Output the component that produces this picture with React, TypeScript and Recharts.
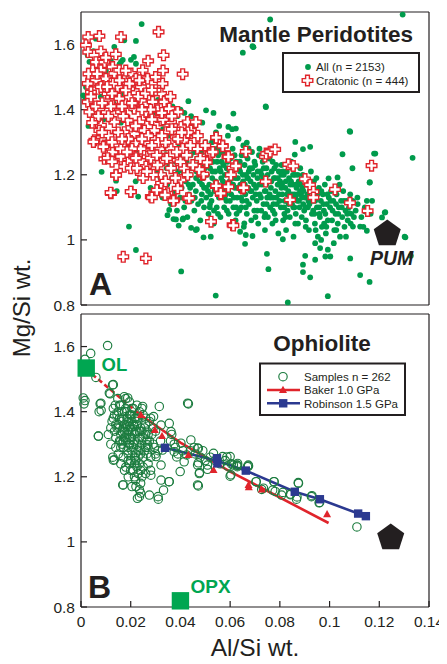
import React from 'react';
import { ScatterChart, Scatter, XAxis, YAxis } from 'recharts';

type P = [number, number];

const FONT = '"Liberation Sans", Arial, Helvetica, sans-serif';
const INK = '#231f20';
const GREEN = '#009b4c';
const RED = '#e0242b';
const RING = '#1c7c3f';
const OLGREEN = '#00a651';
const BLUE = '#2b3990';

const xTicks = [0, 0.02, 0.04, 0.06, 0.08, 0.1, 0.12, 0.14];
const yTicks = [0.8, 1, 1.2, 1.4, 1.6];
const xDomain = [0, 0.14];
const yDomain = [0.8, 1.7];

// Panel A: Mantle peridotites, all samples (Al/Si, Mg/Si)
const allPeridotites: P[] = [
  [0.0244,1.663],[0.0761,1.677],[0.1294,1.692],[0.0651,1.575],[0.0694,1.592],[0.0744,1.408],[0.1083,1.332],[0.1334,1.252],[0.1184,1.265],[0.1052,1.263],
  [0.1161,1.176],[0.1092,1.22],[0.1224,1.085],[0.1305,1.008],[0.1327,0.951],[0.1123,0.892],[0.1161,0.871],[0.1083,0.943],[0.0993,0.827],[0.0832,0.808],
  [0.0542,0.829],[0.0403,0.903],[0.0221,0.969],[0.0193,1.041],[0.0748,0.957],[0.0754,0.91],[0.0902,0.951],[0.0893,0.924],[0.0893,0.901],[0.0922,0.885],
  [0.0942,0.939],[0.0962,0.975],[0.0993,0.97],[0.0983,0.949],[0.1003,0.949],[0.0942,0.99],[0.066,0.988],[0.0812,1.002],[0.0493,1.008],[0.0522,1.01],
  [0.0443,1.037],[0.0466,1.033],[0.0372,1.064],[0.0409,1.063],[0.0083,1.209],[0.0141,1.182],[0.0144,1.15],[0.115,1.12],[0.1113,1.11],[0.1144,1.087],
  [0.1079,1.082],[0.1094,1.041],[0.1123,1.041],[0.115,1.028],[0.0862,1.301],[0.0893,1.279],[0.0922,1.286],[0.0996,1.189],[0.1032,1.192],[0.0503,1.398],
  [0.0533,1.39],[0.0613,1.388],[0.0623,1.342],[0.0593,1.347],[0.0432,1.426],[0.0667,1.299],[0.0674,1.281],[0.0221,1.611],[0.0174,1.613],[0.0134,1.593],
  [0.006,1.618],[0.0027,1.567],[0.0034,1.547],[0.0161,1.547],[0.0155,1.54],[0.0168,1.553],[0.0201,1.553],[0.0213,1.562],[0.0221,1.541],[0.069,1.595],
  [0.023,1.133],[0.0382,1.063],[0.0411,1.066],[0.0393,1.044],[0.0462,1.03],[0.064,1.025],[0.0663,1.015],[0.069,1.012],[0.0657,1.051],[0.0348,1.076],
  [0.0355,1.092],[0.1162,1.177],[0.1222,1.084],[0.1211,1.069],[0.1302,1.01],[0.086,1.262],[0.0743,1.41],[0.1081,1.334],[0.1179,1.265],
  [0.0009,1.444],[0.0016,1.429],[0.002,1.47],[0.004,1.39],[0.003,1.35],[0.007,1.52],[0.008,1.44],[0.009,1.37],[0.011,1.31],[0.012,1.49],
  [0.013,1.42],[0.014,1.26],[0.016,1.36],[0.017,1.45],[0.018,1.22],[0.019,1.3],[0.021,1.4],[0.022,1.18],[0.023,1.27],[0.024,1.35],
  [0.025,1.46],[0.026,1.22],[0.027,1.31],[0.028,1.16],[0.029,1.39],[0.03,1.25],[0.031,1.43],[0.032,1.19],[0.033,1.34],[0.034,1.28],
  [0.035,1.14],[0.036,1.37],[0.037,1.22],[0.038,1.31],[0.039,1.17],[0.04,1.4],[0.041,1.26],[0.042,1.12],[0.043,1.34],[0.044,1.2],
  [0.012,1.55],[0.015,1.57],[0.01,1.52],[0.006,1.49],[0.0185,1.51],[0.02,1.47],[0.005,1.58],[0.003,1.6],
  [0.0305,1.21],[0.0312,1.15],[0.0318,1.3],[0.0322,1.24],[0.0328,1.13],[0.0335,1.2],[0.0341,1.26],[0.0347,1.17],[0.0352,1.32],[0.0356,1.23],
  [0.0362,1.11],[0.0366,1.19],[0.0371,1.27],[0.0376,1.15],[0.0381,1.24],[0.0386,1.09],[0.0391,1.21],[0.0396,1.29],[0.0399,1.13],[0.0358,1.28],
  [0.0333,1.36],[0.0378,1.34],[0.0388,1.38],[0.0368,1.41],[0.0395,1.18],[0.0345,1.22],[0.0315,1.27],
  [0.0402,1.25],[0.0405,1.16],[0.0408,1.33],[0.0412,1.21],[0.0415,1.1],[0.0418,1.28],[0.0421,1.18],[0.0425,1.24],[0.0428,1.07],[0.0431,1.31],
  [0.0434,1.14],[0.0437,1.2],[0.0441,1.26],[0.0444,1.12],[0.0447,1.35],[0.045,1.17],[0.0453,1.23],[0.0456,1.09],[0.0459,1.29],[0.0462,1.15],
  [0.0465,1.21],[0.0468,1.25],[0.0471,1.11],[0.0474,1.32],[0.0477,1.18],[0.048,1.06],[0.0483,1.23],[0.0486,1.14],[0.0489,1.27],[0.0492,1.19],
  [0.0495,1.1],[0.0498,1.22],[0.0443,1.38],[0.0461,1.33],[0.0488,1.36],[0.0416,1.39],[0.0433,1.17],[0.0476,1.2],[0.0455,1.27],[0.0495,1.16],
  [0.0501,1.3],[0.0504,1.13],[0.0507,1.2],[0.051,1.25],[0.0513,1.08],[0.0516,1.17],[0.0519,1.22],[0.0522,1.28],[0.0525,1.12],[0.0528,1.19],
  [0.0531,1.24],[0.0534,1.05],[0.0537,1.15],[0.054,1.21],[0.0543,1.33],[0.0546,1.1],[0.0549,1.17],[0.0552,1.26],[0.0555,1.13],[0.0558,1.22],
  [0.0561,1.07],[0.0564,1.19],[0.0567,1.29],[0.057,1.15],[0.0573,1.23],[0.0576,1.1],[0.0579,1.2],[0.0582,1.26],[0.0585,1.12],[0.0588,1.17],
  [0.0591,1.32],[0.0594,1.08],[0.0597,1.21],[0.0511,1.15],[0.0527,1.3],[0.0548,1.28],[0.0565,1.24],[0.0583,1.14],[0.0598,1.18],[0.0535,1.09],
  [0.0556,1.35],[0.0519,1.11],[0.0572,1.27],
  [0.0601,1.25],[0.0604,1.14],[0.0607,1.19],[0.061,1.28],[0.0613,1.1],[0.0616,1.22],[0.0619,1.16],[0.0622,1.06],[0.0625,1.24],[0.0628,1.13],
  [0.0631,1.19],[0.0634,1.31],[0.0637,1.09],[0.064,1.21],[0.0643,1.15],[0.0646,1.26],[0.0649,1.12],[0.0652,1.18],[0.0655,1.04],[0.0658,1.23],
  [0.0661,1.14],[0.0664,1.2],[0.0667,1.08],[0.067,1.25],[0.0673,1.16],[0.0676,1.11],[0.0679,1.22],[0.0682,1.18],[0.0685,1.06],[0.0688,1.27],
  [0.0691,1.13],[0.0694,1.2],[0.0697,1.09],[0.0612,1.17],[0.0632,1.23],[0.0653,1.29],[0.0669,1.19],[0.0686,1.15],[0.0608,1.34],[0.0626,1.08],
  [0.0645,1.1],[0.0675,1.21],[0.0641,1.17],
  [0.0701,1.23],[0.0704,1.16],[0.0707,1.12],[0.071,1.19],[0.0713,1.05],[0.0716,1.26],[0.0719,1.14],[0.0722,1.21],[0.0725,1.09],[0.0728,1.17],
  [0.0731,1.24],[0.0734,1.11],[0.0737,1.19],[0.074,1.03],[0.0743,1.15],[0.0746,1.22],[0.0749,1.13],[0.0752,1.07],[0.0755,1.18],[0.0758,1.25],
  [0.0761,1.1],[0.0764,1.16],[0.0767,1.21],[0.077,1.05],[0.0773,1.13],[0.0776,1.19],[0.0779,1.08],[0.0782,1.15],[0.0785,1.23],[0.0788,1.11],
  [0.0791,1.17],[0.0794,1.02],[0.0797,1.14],[0.0709,1.09],[0.0727,1.2],[0.0745,1.17],[0.0762,1.13],[0.0781,1.19],[0.0796,1.21],[0.0718,1.28],
  [0.0738,1.07],[0.0772,1.09],[0.0754,1.27],
  [0.0801,1.18],[0.0804,1.1],[0.0807,1.23],[0.081,1.14],[0.0813,1.06],[0.0816,1.2],[0.0819,1.12],[0.0822,1.16],[0.0825,1.03],[0.0828,1.21],
  [0.0831,1.09],[0.0834,1.15],[0.0837,1.19],[0.084,1.07],[0.0843,1.13],[0.0846,1.24],[0.0849,1.11],[0.0852,1.17],[0.0855,1.01],[0.0858,1.14],
  [0.0861,1.2],[0.0864,1.08],[0.0867,1.16],[0.087,1.12],[0.0873,1.05],[0.0876,1.18],[0.0879,1.1],[0.0882,1.22],[0.0885,1.14],[0.0888,1.07],
  [0.0891,1.16],[0.0894,1.11],[0.0897,1.19],[0.0809,1.17],[0.0826,1.12],[0.0845,1.18],[0.0863,1.13],[0.0881,1.15],[0.0898,1.09],[0.0818,1.08],
  [0.0836,1.24],[0.0854,1.1],[0.0872,1.2],
  [0.0901,1.13],[0.0905,1.06],[0.0909,1.17],[0.0913,1.1],[0.0917,1.03],[0.0921,1.15],[0.0925,1.21],[0.0929,1.08],[0.0933,1.12],[0.0937,1.18],
  [0.0941,1.05],[0.0945,1.14],[0.0949,1.1],[0.0953,1.01],[0.0957,1.16],[0.0961,1.07],[0.0965,1.12],[0.0969,1.04],[0.0973,1.14],[0.0977,1.09],
  [0.0981,1.17],[0.0985,1.02],[0.0989,1.11],[0.0993,1.06],[0.0997,1.13],[0.0915,1.12],[0.0939,1.08],[0.0958,1.1],[0.0978,1.05],[0.0947,1.19],
  [0.0927,1.16],[0.0966,1.0],
  [0.1002,1.1],[0.1006,1.15],[0.101,1.06],[0.1015,1.12],[0.1019,1.03],[0.1024,1.08],[0.1028,1.14],[0.1033,1.05],[0.1037,1.1],[0.1042,1.01],
  [0.1046,1.12],[0.1051,1.07],[0.1055,1.15],[0.106,1.04],[0.1064,1.09],[0.1069,1.12],[0.1073,1.06],[0.1078,1.1],[0.1083,1.14],[0.1088,1.08],
  [0.1093,1.12],[0.1098,1.07],[0.1017,0.99],[0.104,1.17],[0.1066,1.01],[0.1085,1.05],
  [0.1105,1.09],[0.1112,1.13],[0.1128,1.07],[0.1136,1.04],[0.1142,1.1],[0.1165,1.08],[0.1171,1.12],
  [0.0463,1.19],[0.0472,1.23],[0.0487,1.17],[0.0503,1.16],[0.0508,1.23],[0.0521,1.14],[0.0529,1.21],[0.0541,1.18],[0.0553,1.15],[0.0562,1.21],
  [0.0571,1.18],[0.0578,1.13],[0.0586,1.22],[0.0593,1.16],[0.0599,1.12],[0.0605,1.21],[0.0615,1.13],[0.0621,1.19],[0.0629,1.16],[0.0636,1.22],
  [0.0644,1.13],[0.0651,1.2],[0.0659,1.17],[0.0666,1.12],[0.0672,1.19],[0.0681,1.15],[0.0689,1.22],[0.0696,1.17],[0.0703,1.14],[0.0711,1.21],
  [0.0717,1.17],[0.0724,1.13],[0.0732,1.19],[0.0739,1.15],[0.0747,1.11],[0.0751,1.2],[0.0759,1.14],[0.0766,1.18],[0.0774,1.11],[0.0778,1.22],
  [0.0786,1.13],[0.0792,1.19],[0.0799,1.12],[0.0806,1.16],[0.0812,1.21],[0.0817,1.1],[0.0824,1.18],[0.0829,1.14],[0.0835,1.11],[0.0842,1.17],
  [0.0848,1.14],[0.0853,1.2],[0.0859,1.1],[0.0865,1.17],[0.0869,1.14],[0.0877,1.12],[0.0883,1.17],[0.0889,1.13],[0.0895,1.15],[0.0903,1.1],
  [0.0911,1.14],[0.0919,1.11],[0.0926,1.13],[0.0934,1.09],[0.0942,1.12],[0.0951,1.14],[0.0959,1.08],[0.0967,1.15],[0.0975,1.11],[0.0983,1.08],
  [0.0991,1.14],[0.1004,1.12],[0.1012,1.09],[0.1026,1.11],[0.1035,1.08],[0.1049,1.1],[0.1058,1.12],[0.1071,1.08],[0.1081,1.11],[0.0528,1.26],
  [0.0547,1.24],[0.0566,1.27],[0.0589,1.24],[0.0618,1.26],[0.0639,1.24],[0.0662,1.26],[0.0698,1.24],[0.0735,1.22],[0.0771,1.24],[0.0806,1.2],
  [0.0851,1.22],[0.0892,1.2],[0.0417,1.23],[0.0426,1.19],[0.0446,1.22],[0.0439,1.16],[0.0458,1.13],[0.0484,1.12],[0.0518,1.1],[0.0551,1.08],
  [0.0587,1.09],[0.0624,1.1],[0.0663,1.1],[0.0702,1.07],[0.0741,1.08],[0.0783,1.06],[0.0823,1.07],[0.0862,1.05],[0.0904,1.04],[0.0944,1.03],
  [0.0987,1.04],[0.1027,1.03],
];

// Panel A: cratonic peridotites
const cratonicPeridotites: P[] = [
  [0.0029,1.623],[0.0074,1.626],[0.0161,1.623],[0.0312,1.639],[0.0332,1.567],[0.0409,1.509],[0.002,1.598],[0.0029,1.577],[0.0054,1.567],[0.008,1.579],
  [0.006,1.546],[0.0094,1.546],[0.0047,1.521],[0.008,1.521],[0.0127,1.531],[0.0134,1.511],[0.0154,1.521],[0.0201,1.511],[0.0248,1.521],[0.0268,1.495],
  [0.0221,1.495],[0.0174,1.49],[0.01,1.495],[0.006,1.49],[0.0027,1.48],[0.0067,1.464],[0.0121,1.48],[0.0147,1.47],[0.0194,1.464],[0.0241,1.47],
  [0.0328,1.48],[0.0322,1.449],[0.0335,1.424],[0.0288,1.424],[0.0241,1.429],[0.0194,1.439],[0.0154,1.434],[0.0107,1.449],[0.004,1.454],[0.0027,1.424],
  [0.0034,1.393],[0.0074,1.403],[0.0127,1.413],[0.0161,1.393],[0.0214,1.403],[0.0261,1.393],[0.0308,1.398],[0.0355,1.403],[0.0389,1.393],[0.0429,1.362],
  [0.0462,1.362],[0.0442,1.336],[0.0402,1.347],[0.0362,1.362],[0.0322,1.367],[0.0281,1.372],[0.0235,1.362],[0.0188,1.367],[0.0134,1.362],[0.008,1.352],
  [0.0074,1.336],[0.0054,1.306],[0.0094,1.29],[0.0134,1.321],[0.0174,1.331],[0.0214,1.326],[0.0255,1.336],[0.0295,1.336],[0.0342,1.331],[0.0382,1.316],
  [0.0415,1.306],[0.0456,1.306],[0.0543,1.314],[0.057,1.29],[0.059,1.257],[0.0516,1.27],[0.0469,1.28],[0.0409,1.28],[0.0362,1.28],[0.0315,1.28],
  [0.0268,1.296],[0.0221,1.296],[0.0174,1.285],[0.0127,1.27],[0.0094,1.249],[0.0161,1.249],[0.0214,1.255],[0.0268,1.255],[0.0335,1.249],
  [0.0107,1.251],[0.0161,1.256],[0.0221,1.251],[0.0281,1.251],[0.0328,1.245],[0.0389,1.245],[0.0415,1.22],[0.0362,1.22],[0.0308,1.23],[0.0261,1.225],
  [0.0174,1.225],[0.0141,1.2],[0.0201,1.148],[0.0121,1.143],[0.0281,1.133],[0.0322,1.174],[0.0348,1.143],[0.0375,1.123],[0.0429,1.128],[0.0402,1.184],
  [0.0389,1.158],[0.0489,1.2],[0.0503,1.24],[0.0476,1.22],[0.059,1.256],[0.061,1.22],[0.0603,1.2],[0.0543,1.164],[0.059,1.164],[0.0563,1.14],
  [0.065,1.158],[0.0523,1.056],[0.061,1.046],[0.017,0.948],[0.0261,0.943],[0.0322,1.2],[0.0241,1.204],[0.0429,1.2],
  [0.074,1.256],[0.0834,1.232],[0.0854,1.227],[0.1169,1.228],[0.0743,1.179],[0.0901,1.187],[0.0921,1.169],[0.0935,1.148],[0.0935,1.13],[0.1022,1.155],
  [0.1082,1.114],[0.1153,1.089],[0.0841,1.123],
  [0.0544,1.314],[0.057,1.288],[0.0522,1.265],[0.0593,1.255],[0.0623,1.227],[0.0663,1.271],[0.0745,1.265],[0.0761,1.271],[0.0781,1.278],[0.0654,1.16],
  [0.0593,1.163],[0.0562,1.143],[0.0544,1.166],[0.0613,1.044],[0.0493,1.202],[0.0475,1.216],[0.0506,1.238],[0.0435,1.128],[0.0372,1.12],[0.0338,1.138],
  [0.0285,1.13],[0.0305,1.153],[0.0119,1.145],[0.02,1.148],[0.0141,1.199],[0.005,1.301],[0.009,1.286],
  [0.012,1.41],[0.017,1.38],[0.022,1.35],[0.027,1.32],[0.031,1.3],[0.036,1.26],[0.04,1.24],[0.045,1.23],[0.048,1.25],[0.044,1.29],
  [0.038,1.34],[0.033,1.37],[0.028,1.4],[0.023,1.44],[0.018,1.46],[0.013,1.48],[0.008,1.47],[0.004,1.44],[0.006,1.41],[0.011,1.38],
  [0.015,1.33],[0.019,1.31],[0.024,1.28],[0.029,1.27],[0.034,1.3],[0.039,1.31],[0.043,1.33],[0.047,1.32],[0.05,1.29],[0.053,1.27],
  [0.029,1.2],[0.034,1.18],[0.038,1.19],[0.025,1.19],[0.02,1.22],[0.016,1.28],[0.011,1.32],[0.007,1.38],[0.003,1.51],[0.01,1.56],
  [0.014,1.57],[0.018,1.52],[0.021,1.42],[0.026,1.45],[0.03,1.46],[0.036,1.44],[0.033,1.52],[0.027,1.55],[0.03,1.5],
  [0.0045,1.36],[0.0085,1.33],[0.0125,1.3],[0.0165,1.31],[0.0205,1.28],[0.0245,1.31],[0.0285,1.29],[0.0325,1.32],[0.0365,1.34],[0.0405,1.33],
  [0.0085,1.42],[0.0125,1.45],[0.0165,1.41],[0.0205,1.42],[0.0245,1.4],[0.0285,1.37],[0.0325,1.39],[0.0365,1.38],[0.0065,1.51],[0.0105,1.47],
  [0.0155,1.49],[0.0195,1.48],[0.0235,1.49],[0.0285,1.46],[0.0125,1.24],[0.0185,1.27],[0.0225,1.22],[0.0265,1.21],[0.0305,1.26],[0.0345,1.25],
  [0.0385,1.27],[0.0425,1.26],
];

const pumA: P[] = [[0.1232, 1.023]];

// Panel B: ophiolite samples
const ophioliteSamples: P[] = [
  [0.0107,1.603],[0.0039,1.579],[0.0016,1.561],[0.006,1.505],[0.013,1.483],[0.0009,1.442],[0.0016,1.434],[0.0012,1.424],[0.0117,1.455],[0.0188,1.442],
  [0.0077,1.424],[0.0081,1.404],[0.007,1.325],[0.0432,1.424],[0.013,1.251],[0.017,1.175],[0.0227,1.134],[0.0311,1.131],[0.0332,1.159],[0.0354,1.185],
  [0.0399,1.216],[0.0472,1.172],[0.0477,1.213],[0.0509,1.223],[0.0472,1.243],[0.0425,1.267],[0.0472,1.287],[0.0385,1.261],[0.0533,1.272],[0.0587,1.261],
  [0.0603,1.206],[0.0627,1.236],[0.0674,1.233],[0.0705,1.185],[0.0734,1.165],[0.0777,1.185],[0.0781,1.155],[0.0812,1.152],[0.0842,1.145],[0.0875,1.18],
  [0.0869,1.138],[0.0929,1.142],[0.096,1.121],[0.111,1.046],[0.0673,1.236],[0.0776,1.185],[0.0874,1.182],[0.0771,1.159],[0.0807,1.144],[0.0843,1.147],
  [0.0867,1.131],[0.0927,1.139],[0.0958,1.12],[0.0727,1.161],[0.0704,1.185],[0.0629,1.231],[0.0613,1.236],[0.06,1.262],[0.06,1.202],
  [0.0168,1.175],[0.0221,1.17],[0.024,1.15],[0.0281,1.205],[0.0322,1.236],[0.0355,1.185],[0.031,1.139],[0.0134,1.252],[0.007,1.325],[0.0127,1.482],
  [0.0174,1.446],[0.0248,1.416],[0.0114,1.457],[0.008,1.426],[0.0073,1.4],[0.0429,1.426],[0.0362,1.339],[0.0402,1.303],[0.0469,1.288],[0.0375,1.277],
  [0.0415,1.246],[0.0469,1.236],[0.0476,1.21],[0.0469,1.175],[0.0509,1.236],[0.057,1.262],[0.059,1.233],[0.063,1.241],[0.067,1.231],[0.0302,1.262],
  [0.0328,1.282],[0.0268,1.298],[0.0355,1.364],[0.0315,1.416],[0.0322,1.359],[0.0292,1.385],[0.0442,1.313],[0.0322,1.19],[0.0275,1.144],[0.0235,1.139],
  [0.012,1.35],[0.013,1.38],[0.014,1.32],[0.015,1.4],[0.015,1.36],[0.016,1.33],[0.016,1.29],[0.017,1.38],[0.017,1.35],[0.018,1.41],
  [0.018,1.31],[0.019,1.37],[0.019,1.34],[0.019,1.27],[0.02,1.39],[0.02,1.32],[0.021,1.36],[0.021,1.29],[0.022,1.34],[0.022,1.25],
  [0.023,1.38],[0.023,1.31],[0.024,1.35],[0.024,1.27],[0.025,1.32],[0.025,1.23],[0.026,1.36],[0.026,1.29],[0.027,1.33],[0.028,1.26],
  [0.028,1.38],[0.029,1.3],[0.03,1.34],[0.031,1.28],[0.011,1.33],[0.012,1.3],[0.013,1.41],[0.014,1.36],[0.016,1.42],[0.017,1.31],
  [0.018,1.35],[0.02,1.35],[0.021,1.41],[0.022,1.38],[0.023,1.28],[0.024,1.22],[0.025,1.39],[0.026,1.33],[0.027,1.24],[0.029,1.35],
  [0.03,1.27],[0.032,1.31],[0.017,1.26],[0.018,1.23],[0.019,1.2],[0.02,1.25],[0.021,1.22],[0.022,1.19],[0.023,1.21],[0.024,1.18],
  [0.025,1.26],[0.026,1.21],[0.027,1.29],[0.028,1.22],[0.016,1.24],[0.015,1.27],[0.014,1.29],[0.0125,1.37],[0.0135,1.34],[0.0145,1.39],
  [0.0155,1.31],[0.0165,1.37],[0.0175,1.4],[0.0185,1.33],[0.0195,1.3],[0.0205,1.37],[0.0215,1.33],[0.0225,1.3],[0.0235,1.34],[0.0245,1.3],
  [0.0255,1.35],[0.0265,1.31],[0.0275,1.37],[0.0285,1.33],[0.0295,1.29],[0.0185,1.38],[0.0195,1.43],[0.0175,1.34],[0.0205,1.28],[0.0215,1.26],
  [0.0225,1.42],[0.0235,1.24],[0.0215,1.38],[0.0165,1.3],[0.0155,1.35],[0.0245,1.41],[0.0265,1.27],[0.0195,1.24],[0.0225,1.23],[0.0235,1.16],
  [0.0205,1.17],[0.0215,1.2],[0.0245,1.2],[0.0185,1.28],[0.0175,1.22],[0.0128,1.26],[0.0138,1.42],[0.0148,1.44],
  [0.036,1.31],[0.038,1.29],[0.039,1.27],[0.041,1.28],[0.044,1.28],[0.046,1.27],[0.048,1.26],[0.05,1.25],[0.052,1.26],[0.054,1.25],
  [0.056,1.24],[0.058,1.25],[0.0605,1.24],[0.063,1.235],[0.0455,1.29],[0.049,1.28],[0.0365,1.33],[0.0375,1.3],
  [0.0155,1.38],[0.0165,1.34],[0.0175,1.36],[0.0185,1.36],[0.0195,1.355],[0.0205,1.34],[0.0215,1.355],[0.0225,1.36],[0.0185,1.4],[0.0205,1.41],
  [0.0165,1.4],[0.0175,1.32],[0.0195,1.32],[0.0215,1.31],[0.0235,1.32],[0.0225,1.34],[0.0245,1.34],[0.017,1.29],[0.019,1.29],[0.021,1.3],
  [0.023,1.26],[0.02,1.22],[0.022,1.27],[0.0145,1.35],[0.0135,1.39],[0.0155,1.42],[0.018,1.44],[0.0205,1.39],[0.0235,1.4],[0.026,1.38],
  [0.0265,1.34],[0.0275,1.31],[0.0255,1.28],[0.0235,1.29],[0.019,1.25],[0.0215,1.24],[0.018,1.32],[0.016,1.31],[0.0225,1.37],[0.0195,1.39],
];

const bakerCurveDashed: P[] = [[0.002,1.531],[0.0241,1.389]];
const bakerCurve: P[] = [[0.0241,1.389],[0.04,1.305],[0.06,1.216],[0.0996,1.058]];
const bakerPoints: P[] = [[0.0241,1.39],[0.0297,1.344],[0.0326,1.325],[0.0432,1.267],[0.0533,1.221],[0.0674,1.175],[0.0675,1.168],[0.0727,1.161],[0.099,1.085]];
const robinsonCurve: P[] = [[0.0338,1.289],[0.0548,1.249],[0.0663,1.219],[0.086,1.154],[0.0961,1.131],[0.1115,1.087],[0.1146,1.079]];
const robinsonPoints: P[] = [[0.0338,1.289],[0.0547,1.257],[0.0549,1.241],[0.0663,1.219],[0.086,1.154],[0.0961,1.131],[0.1115,1.087],[0.1146,1.079]];
const olPoint: P[] = [[0.0021,1.534]];
const opxPoint: P[] = [[0.04,0.819]];
const pumB: P[] = [[0.1246,1.017]];

const xy = (a: P[]) => a.map(([x, y]) => ({ x, y }));

const GreenDot = (p: any) => <circle cx={p.cx} cy={p.cy} r={2.9} fill={GREEN} />;
const crossPath = (cx: number, cy: number, s: number, a: number) =>
  `M${cx - a},${cy - s}L${cx + a},${cy - s}L${cx + a},${cy - a}L${cx + s},${cy - a}L${cx + s},${cy + a}L${cx + a},${cy + a}L${cx + a},${cy + s}L${cx - a},${cy + s}L${cx - a},${cy + a}L${cx - s},${cy + a}L${cx - s},${cy - a}L${cx - a},${cy - a}Z`;
const RedCross = (p: any) => <path d={crossPath(p.cx, p.cy, 5.3, 1.9)} fill="#fff" stroke={RED} strokeWidth={1.4} />;
const Ring = (p: any) => <circle cx={p.cx} cy={p.cy} r={4.2} fill="none" stroke={RING} strokeWidth={1.15} />;
const Tri = (p: any) => <path d={`M${p.cx},${p.cy - 4.2}L${p.cx + 4},${p.cy + 3}L${p.cx - 4},${p.cy + 3}Z`} fill={RED} />;
const Sq = (p: any) => <rect x={p.cx - 4.2} y={p.cy - 4.2} width={8.4} height={8.4} fill={BLUE} />;
const BigSq = (p: any) => <rect x={p.cx - 8.7} y={p.cy - 8.7} width={17.4} height={17.4} fill={OLGREEN} />;
const Nothing = () => <g />;
const pentagonPath = (cx: number, cy: number, r: number) => {
  const c = cy + 0.0955 * r;
  const pts = [0, 1, 2, 3, 4].map((k) => {
    const ang = ((-90 + 72 * k) * Math.PI) / 180;
    return `${cx + r * Math.cos(ang)},${c + r * Math.sin(ang)}`;
  });
  return 'M' + pts.join('L') + 'Z';
};
const Pentagon = (p: any) => <path d={pentagonPath(p.cx, p.cy, 14.2)} fill={INK} />;

const axisLineStyle = { stroke: INK, strokeWidth: 1.2 };
const tickStyle = { fontSize: 15.5, fill: INK, fontFamily: FONT };

function axes(showXLabels: boolean) {
  return [
    <XAxis key="xb" xAxisId={0} type="number" dataKey="x" domain={xDomain} ticks={xTicks} interval={0} height={1}
      tickSize={-6} tickMargin={15} axisLine={axisLineStyle} tickLine={axisLineStyle} tick={showXLabels ? tickStyle : false} />,
    <XAxis key="xt" xAxisId="top" orientation="top" type="number" dataKey="x" domain={xDomain} ticks={xTicks} interval={0} height={1}
      tickSize={-6} axisLine={axisLineStyle} tickLine={axisLineStyle} tick={false} />,
    <YAxis key="yl" yAxisId={0} type="number" dataKey="y" domain={yDomain} ticks={yTicks} interval={0} width={1}
      tickSize={-6} tickMargin={12} axisLine={axisLineStyle} tickLine={axisLineStyle} tick={tickStyle} />,
    <YAxis key="yr" yAxisId="right" orientation="right" type="number" dataKey="y" domain={yDomain} ticks={yTicks} interval={0} width={1}
      tickSize={-6} axisLine={axisLineStyle} tickLine={axisLineStyle} tick={false} />,
  ];
}

export default function App() {
  const txt = { fontFamily: FONT, fill: INK } as const;
  return (
    <div style={{ position: 'relative', width: 447, height: 664, margin: '-8px 0 0 -8px', background: '#fff', overflow: 'hidden' }}>
      <div style={{ position: 'absolute', left: 0, top: 0 }}>
        <ScatterChart width={447} height={320} margin={{ top: 11, right: 17, bottom: 14, left: 80 }}>
          {axes(false)}
          <Scatter name="All (n = 2153)" data={xy(allPeridotites)} shape={GreenDot} fill={GREEN} isAnimationActive={false} />
          <Scatter name="Cratonic (n = 444)" data={xy(cratonicPeridotites)} shape={RedCross} fill={RED} isAnimationActive={false} />
          <Scatter name="PUM" data={xy(pumA)} shape={Pentagon} fill={INK} isAnimationActive={false} />
        </ScatterChart>
      </div>
      <div style={{ position: 'absolute', left: 0, top: 310 }}>
        <ScatterChart width={447} height={354} margin={{ top: 3, right: 17, bottom: 56, left: 80 }}>
          {axes(true)}
          <Scatter name="Baker extrapolated" data={xy(bakerCurveDashed)} fill={RED} line={{ stroke: RED, strokeWidth: 2.6, strokeDasharray: '5 3' }} shape={Nothing} isAnimationActive={false} />
          <Scatter name="Baker curve" data={xy(bakerCurve)} fill={RED} line={{ stroke: RED, strokeWidth: 2.6 }} shape={Nothing} isAnimationActive={false} />
          <Scatter name="Robinson curve" data={xy(robinsonCurve)} fill={BLUE} line={{ stroke: BLUE, strokeWidth: 2.6 }} shape={Nothing} isAnimationActive={false} />
          <Scatter name="Samples n = 262" data={xy(ophioliteSamples)} shape={Ring} fill={RING} isAnimationActive={false} />
          <Scatter name="Baker 1.0 GPa" data={xy(bakerPoints)} shape={Tri} fill={RED} isAnimationActive={false} />
          <Scatter name="Robinson 1.5 GPa" data={xy(robinsonPoints)} shape={Sq} fill={BLUE} isAnimationActive={false} />
          <Scatter name="OL" data={xy(olPoint)} shape={BigSq} fill={OLGREEN} isAnimationActive={false} />
          <Scatter name="OPX" data={xy(opxPoint)} shape={BigSq} fill={OLGREEN} isAnimationActive={false} />
          <Scatter name="PUM B" data={xy(pumB)} shape={Pentagon} fill={INK} isAnimationActive={false} />
        </ScatterChart>
      </div>
      <svg width={447} height={664} style={{ position: 'absolute', left: 0, top: 0, pointerEvents: 'none' }}>
        <text {...txt} x={413} y={42} fontSize={22.5} fontWeight="bold" textAnchor="end">Mantle Peridotites</text>
        <text {...txt} x={322} y={350.5} fontSize={22.5} fontWeight="bold" textAnchor="middle">Ophiolite</text>
        <text {...txt} x={89} y={295} fontSize={32} fontWeight="bold">A</text>
        <text {...txt} x={88} y={598} fontSize={32} fontWeight="bold">B</text>
        <text {...txt} x={370} y={265} fontSize={19.5} fontWeight="bold" fontStyle="italic">PUM</text>
        <text fontFamily={FONT} fill={OLGREEN} x={101.5} y={371} fontSize={18.5} fontWeight="bold">OL</text>
        <text fontFamily={FONT} fill={OLGREEN} x={190.5} y={593} fontSize={19} fontWeight="bold">OPX</text>
        <text {...txt} x={255} y={656} fontSize={24.5} textAnchor="middle">Al/Si wt.</text>
        <text {...txt} x={0} y={0} fontSize={24} textAnchor="middle" transform="translate(29.5,308) rotate(-90)">Mg/Si wt.</text>

        <rect x={283} y={53} width={136} height={39} fill="#fff" stroke={INK} strokeWidth={2} />
        <circle cx={308} cy={67} r={2.9} fill={GREEN} />
        <text {...txt} x={316} y={71} fontSize={11.5}>All (n = 2153)</text>
        <path d={crossPath(307.5, 80.5, 5.3, 1.9)} fill="#fff" stroke={RED} strokeWidth={1.4} />
        <text {...txt} x={316} y={84.5} fontSize={11.5}>Cratonic (n = 444)</text>

        <rect x={260} y={363.5} width={145} height={51.5} fill="#fff" stroke={INK} strokeWidth={2} />
        <circle cx={283} cy={376.7} r={4.2} fill="none" stroke={RING} strokeWidth={1.15} />
        <text {...txt} x={304} y={380.7} fontSize={11.5}>Samples n = 262</text>
        <line x1={267} x2={300} y1={390} y2={390} stroke={RED} strokeWidth={2.6} />
        <path d="M283,385.8L287,393L279,393Z" fill={RED} />
        <text {...txt} x={304} y={394} fontSize={11.5}>Baker 1.0 GPa</text>
        <line x1={267} x2={300} y1={403.3} y2={403.3} stroke={BLUE} strokeWidth={2.6} />
        <rect x={279} y={399.1} width={8.4} height={8.4} fill={BLUE} />
        <text {...txt} x={304} y={407.5} fontSize={11.5}>Robinson 1.5 GPa</text>
      </svg>
    </div>
  );
}
